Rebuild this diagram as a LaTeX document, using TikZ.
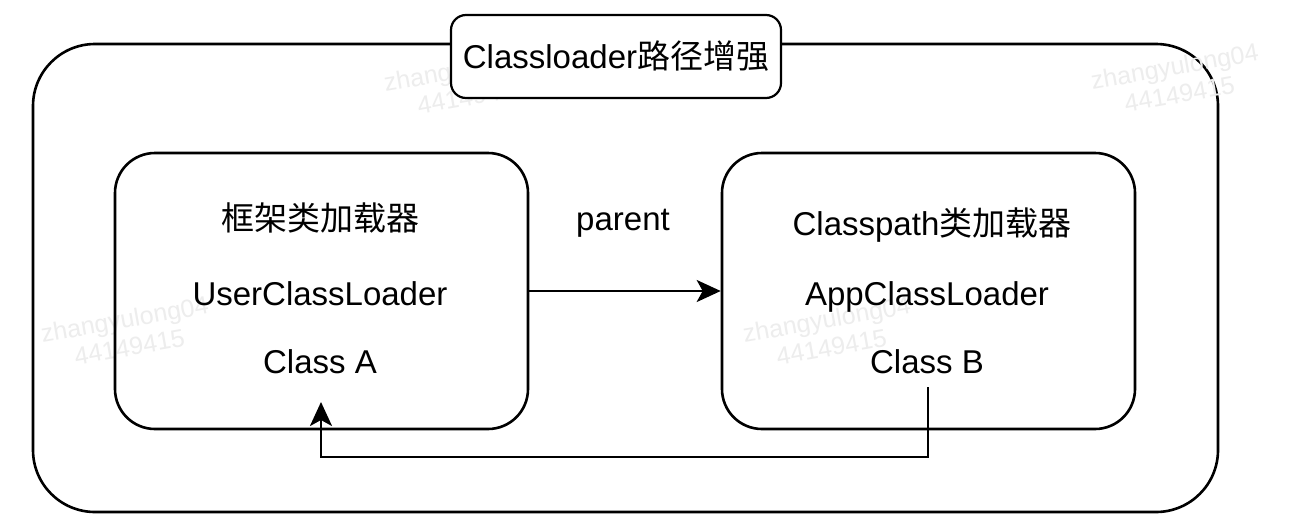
\documentclass[tikz,border=0pt]{standalone}
\usepackage{fontspec}
\setmainfont{Liberation Sans}
\newfontfamily\cjk{Noto Sans CJK SC}
\usetikzlibrary{arrows.meta}
\begin{document}
\begin{tikzpicture}[x=1pt,y=-1pt,
  box/.style={draw=black,line width=2.6pt,fill=white,inner sep=0pt},
  txt/.style={font=\fontsize{33}{38}\selectfont,inner sep=0pt,anchor=base},
  wm/.style={font=\fontsize{25}{28}\selectfont,text=black!7,rotate=10,align=center,inner sep=0pt},
  arr/.style={line width=2.6pt,-{Stealth[length=24pt,width=22pt,inset=6pt]}},
  conn/.style={line width=2.6pt}]
\useasboundingbox (0,0) rectangle (1304,528);
\fill[white] (0,0) rectangle (1304,528);
% outer container
\node[box,rounded corners=62pt,minimum width=1185pt,minimum height=468pt] (outer) at (625.5,278) {};
% watermarks
\node[wm] (w1) at (470,82) {zhangyulong04\\44149415};
\node[wm] (w2) at (1177,80) {zhangyulong04\\44149415};
\node[wm] (w3) at (127,333) {zhangyulong04\\44149415};
\node[wm] (w4) at (829,333) {zhangyulong04\\44149415};
% title
\node[box,line width=2.2pt,rounded corners=15pt,minimum width=330pt,minimum height=83pt] (title) at (616,56.5) {};
\node[txt] (titletext) at (616,68) {Classloader{\cjk 路径增强}};
% left loader box
\node[box,fill=none,rounded corners=40pt,minimum width=413pt,minimum height=276pt] (L) at (321.5,291) {};
\node[txt] (l1) at (320,230) {{\cjk 框架类加载器}};
\node[txt] (l2) at (320,305) {UserClassLoader};
\node[txt] (l3) at (320,373) {Class A};
% right loader box
\node[box,fill=none,rounded corners=40pt,minimum width=413pt,minimum height=276pt] (R) at (928.5,291) {};
\node[txt] (r1) at (932,235) {Classpath{\cjk 类加载器}};
\node[txt] (r2) at (927,305) {AppClassLoader};
\node[txt] (r3) at (927,373) {Class B};
% parent arrow
\draw[arr] (L.east) -- (R.west);
\node[txt] (parent) at (623,230) {parent};
% return connector
\coordinate (bstart) at (928,387);
\coordinate (atip) at (321,402);
\draw[arr] (bstart) -- (928,457) -| (atip);
\end{tikzpicture}
\end{document}
